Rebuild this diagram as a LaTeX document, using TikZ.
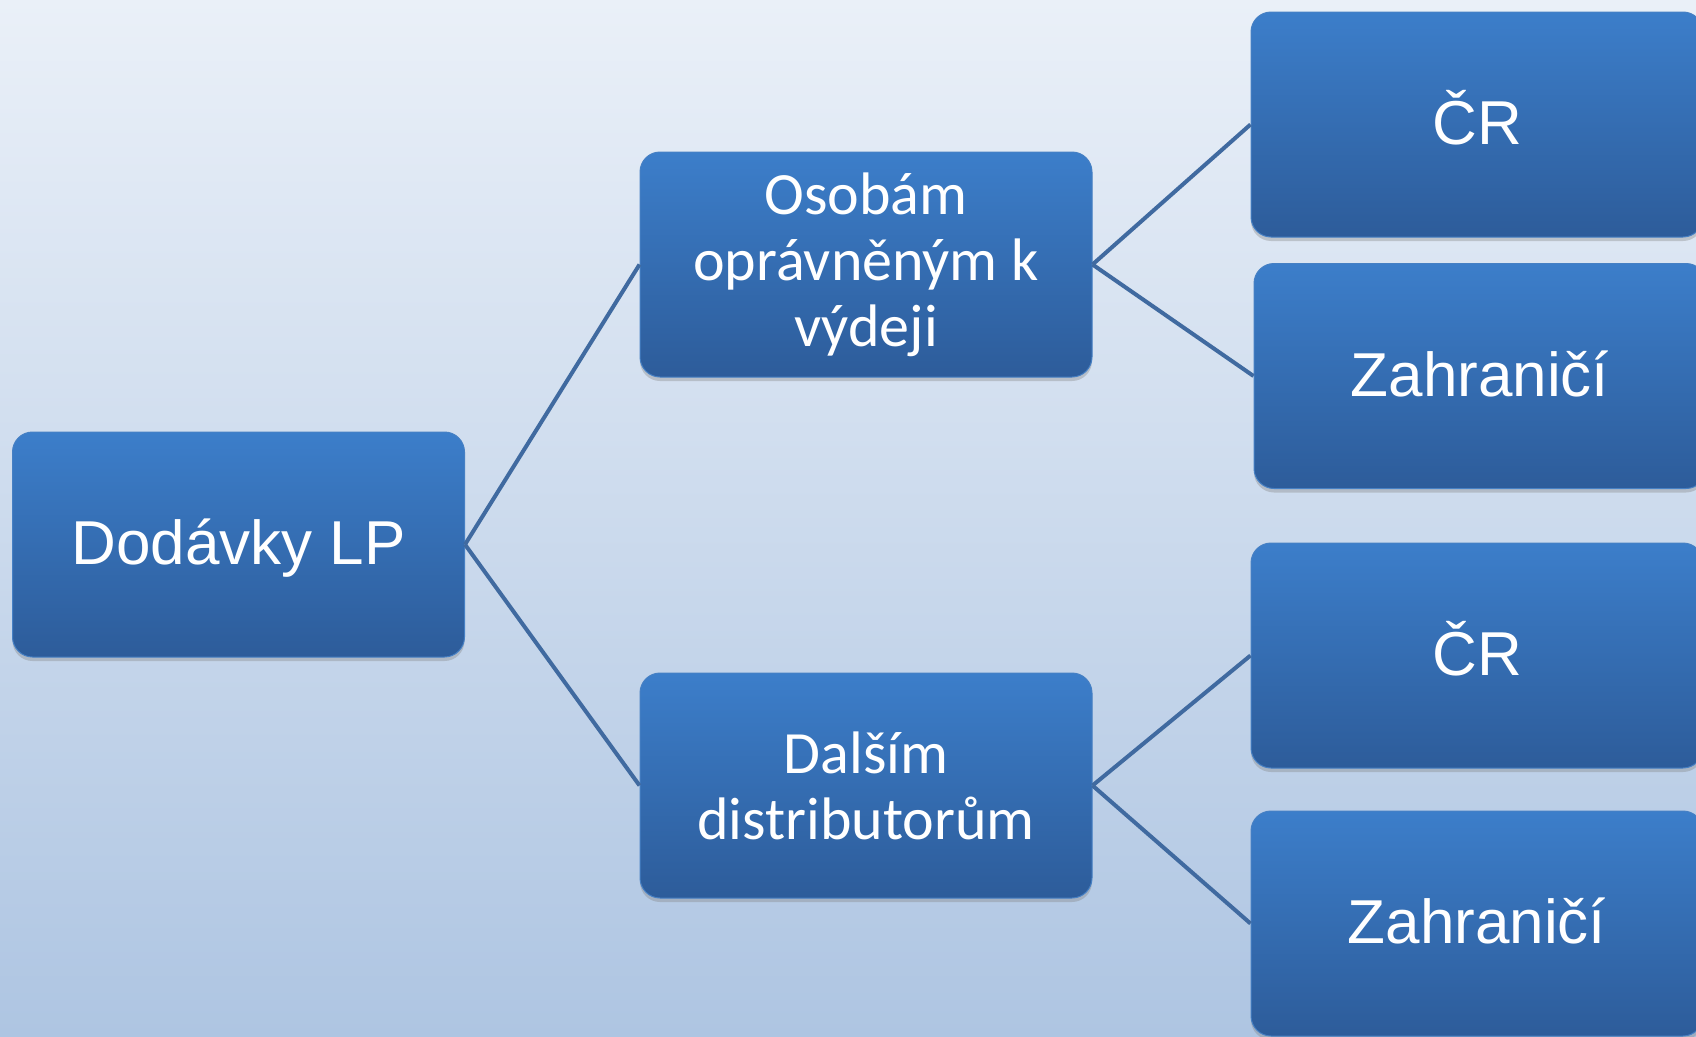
\documentclass[tikz,border=0pt]{standalone}
\usepackage{fontspec}
\usetikzlibrary{shadows}
\newfontfamily\arialf{Liberation Sans}
\newfontfamily\calf{Carlito}
\definecolor{bgtop}{RGB}{234,240,248}
\definecolor{bgbot}{RGB}{174,197,226}
\definecolor{boxtop}{RGB}{60,126,202}
\definecolor{boxbot}{RGB}{45,92,154}
\definecolor{boxedge}{RGB}{70,128,196}
\definecolor{linec}{RGB}{64,106,160}
\tikzset{
  box/.style={rectangle, rounded corners=20pt, minimum width=452pt, minimum height=225pt,
    top color=boxtop, bottom color=boxbot, draw=boxedge, line width=1pt,
    text=white, align=center, inner sep=0pt,
    drop shadow={shadow xshift=0pt, shadow yshift=-4pt, opacity=0.35}},
  arialtxt/.style={font={\arialf\fontsize{62}{70}\selectfont}, text height=54pt, text depth=14pt},
  caltxt/.style={font={\calf\fontsize{60}{66}\selectfont}},
  conn/.style={draw=linec, line width=4pt}
}
\begin{document}
\begin{tikzpicture}[x=1pt,y=-1pt]
\useasboundingbox (0,0) rectangle (1696,1036);
\clip (0,0) rectangle (1696,1036);
\shade[top color=bgtop, bottom color=bgbot] (0,0) rectangle (1696,1036);

\node[box, arialtxt] (d) at (238.5,544.5) {Dodávky LP};
\node[box, caltxt] (o) at (866,264.5) {Osobám\\oprávněným k\\výdeji};
\node[box, caltxt] (a) at (866,785.5) {Dalším\\distributorům};
\node[box, arialtxt] (c1) at (1477,124.5) {ČR};
\node[box, arialtxt] (z1) at (1480,376) {Zahraničí};
\node[box, arialtxt] (c2) at (1477,655.5) {ČR};
\node[box, arialtxt] (z2) at (1477,923.5) {Zahraničí};

\draw[conn] (d.east) -- (o.west);
\draw[conn] (d.east) -- (a.west);
\draw[conn] (o.east) -- (c1.west);
\draw[conn] (o.east) -- (z1.west);
\draw[conn] (a.east) -- (c2.west);
\draw[conn] (a.east) -- (z2.west);
\end{tikzpicture}
\end{document}
